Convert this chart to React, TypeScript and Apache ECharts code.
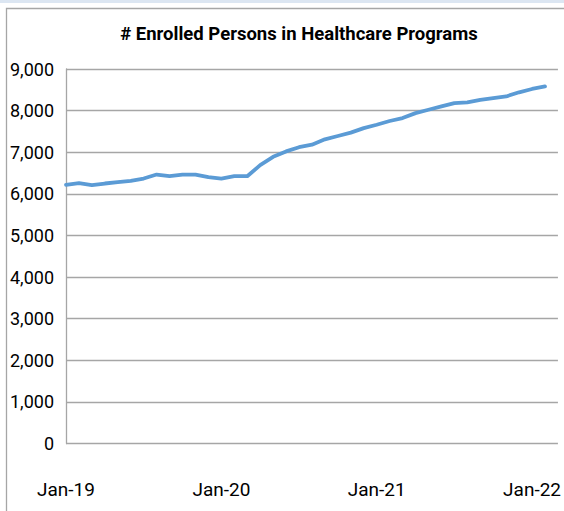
import React, { useEffect, useRef } from "react";
import * as echarts from "echarts";

const months = [
  "Jan-19", "Feb-19", "Mar-19", "Apr-19", "May-19", "Jun-19", "Jul-19", "Aug-19", "Sep-19", "Oct-19", "Nov-19", "Dec-19",
  "Jan-20", "Feb-20", "Mar-20", "Apr-20", "May-20", "Jun-20", "Jul-20", "Aug-20", "Sep-20", "Oct-20", "Nov-20", "Dec-20",
  "Jan-21", "Feb-21", "Mar-21", "Apr-21", "May-21", "Jun-21", "Jul-21", "Aug-21", "Sep-21", "Oct-21", "Nov-21", "Dec-21",
  "Jan-22", "Feb-22",
];

const enrolled = [
  6216, 6256, 6208, 6248, 6280, 6312, 6368, 6464, 6424, 6464, 6464, 6400,
  6368, 6424, 6424, 6690, 6890, 7020, 7120, 7180, 7310, 7390, 7470, 7580,
  7660, 7750, 7820, 7940, 8020, 8100, 8180, 8200, 8260, 8300, 8340, 8440,
  8520, 8580,
];

const yTicks = [0, 1000, 2000, 3000, 4000, 5000, 6000, 7000, 8000, 9000];

const titleText = "# Enrolled Persons in Healthcare Programs";
const FONT = 'Roboto, "Liberation Sans", sans-serif';

export default function App() {
  const ref = useRef<HTMLDivElement>(null);
  useEffect(() => {
    if (!ref.current) return;
    const chart = echarts.init(ref.current, undefined, { renderer: "svg" });
    chart.setOption({
      animation: false,
      backgroundColor: "#ffffff",
      title: {
        text: titleText,
        left: 294,
        top: 19,
        textAlign: "center",
        textStyle: { fontFamily: FONT, fontWeight: "bold", fontSize: 18.5, color: "#000000" },
      },
      graphic: [
        { type: "rect", shape: { x: 0, y: 0, width: 564, height: 3 }, style: { fill: "#dce6f2" }, silent: true },
        {
          type: "rect",
          shape: { x: 6.5, y: 8.5, width: 620, height: 620 },
          style: { fill: "none", stroke: "#a6a6a6", lineWidth: 1.3 },
          silent: true,
        },
      ],
      grid: { left: 66, right: 0, top: 69, bottom: 67.5, containLabel: false },
      xAxis: {
        type: "value",
        min: 0,
        max: 38,
        interval: 12,
        axisLine: { show: false },
        axisTick: { show: false },
        splitLine: { show: false },
        axisLabel: {
          showMaxLabel: false,
          margin: 36,
          fontFamily: FONT,
          fontSize: 19,
          color: "#000000",
          formatter: (v: number) => (v % 12 === 0 && months[v] ? months[v] : ""),
        },
      },
      yAxis: {
        type: "value",
        min: yTicks[0],
        max: yTicks[yTicks.length - 1],
        interval: 1000,
        axisLine: { show: true, lineStyle: { color: "#a6a6a6", width: 1.3 } },
        axisTick: { show: false },
        splitLine: { show: true, lineStyle: { color: "#a6a6a6", width: 1.3 } },
        axisLabel: {
          margin: 12,
          fontFamily: FONT,
          fontSize: 18,
          color: "#000000",
          formatter: (v: number) => v.toLocaleString("en-US"),
        },
      },
      series: [
        {
          type: "line",
          data: enrolled.map((v, i) => [i, v]),
          symbol: "none",
          lineStyle: { color: "#5b9bd5", width: 3.8, cap: "round", join: "round" },
        },
      ],
    });
    return () => chart.dispose();
  }, []);
  return (
    <div
      ref={ref}
      style={{ position: "fixed", left: 0, top: 0, width: 564, height: 511 }}
    />
  );
}
